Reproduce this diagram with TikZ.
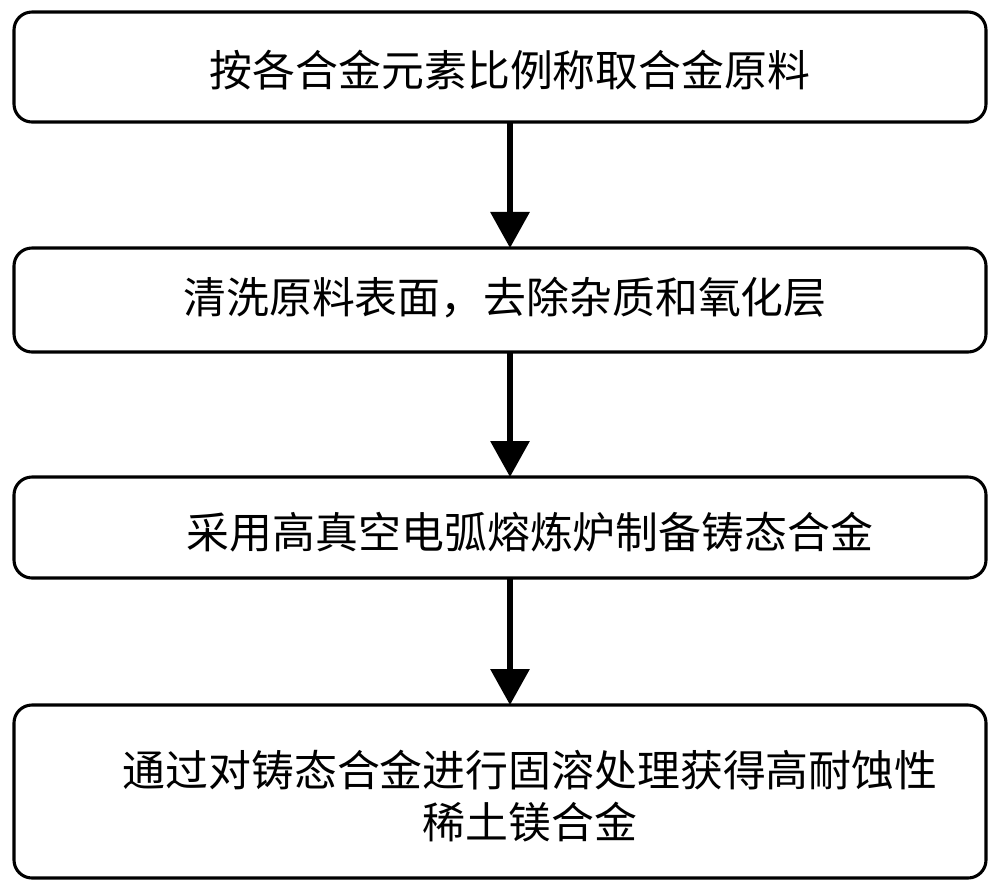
\documentclass[tikz,border=0pt]{standalone}
\usepackage{fontspec}
\newfontfamily\cjk{Noto Sans CJK SC}
\usetikzlibrary{arrows.meta}
\begin{document}
\begin{tikzpicture}[x=0.025cm,y=-0.025cm,
  box/.style={draw=black,line width=2.2pt,rounded corners=0.45cm},
  lbl/.style={font=\cjk\fontsize{30.5}{37}\selectfont,align=center},
  arr/.style={line width=4.5pt,-{Triangle[length=0.9cm,width=0.95cm]}}]
\useasboundingbox (0,0) rectangle (1000,890);
\draw[box] (14,12) rectangle (986,122);
\draw[box] (14,248) rectangle (986,352);
\draw[box] (14,477) rectangle (986,578);
\draw[box] (14,705) rectangle (986,878);
\coordinate (b1) at (510,122); \coordinate (t2) at (510,248);
\coordinate (b2) at (510,352); \coordinate (t3) at (510,477);
\coordinate (b3) at (510,578); \coordinate (t4) at (510,705);
\node[lbl] (l1) at (510,70) {按各合金元素比例称取合金原料};
\node[lbl] (l2) at (505,298) {清洗原料表面，去除杂质和氧化层};
\node[lbl] (l3) at (530,532) {采用高真空电弧熔炼炉制备铸态合金};
\node[lbl] (l4) at (530,796) {通过对铸态合金进行固溶处理获得高耐蚀性\\稀土镁合金};
\draw[arr] (b1) -- (t2);
\draw[arr] (b2) -- (t3);
\draw[arr] (b3) -- (t4);
\end{tikzpicture}
\end{document}
